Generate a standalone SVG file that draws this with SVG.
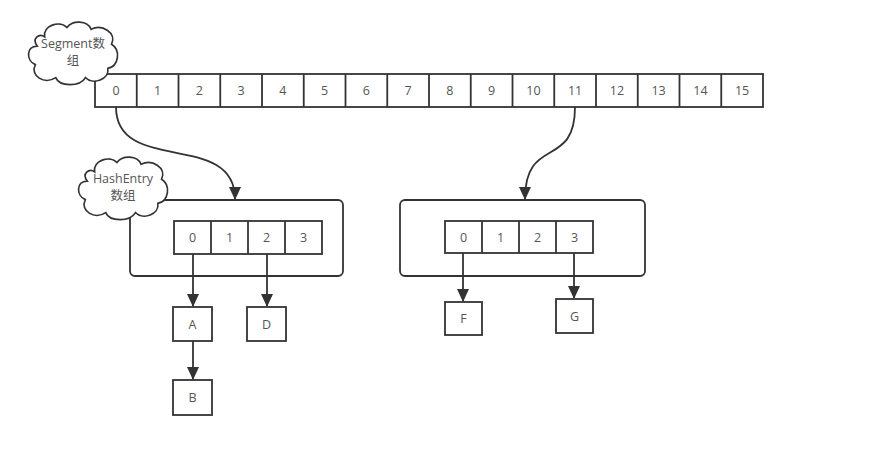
<svg xmlns="http://www.w3.org/2000/svg" width="876" height="451" viewBox="0 0 876 451">
<style>
.box{fill:#fff;stroke:#333;stroke-width:1.8}
.div{stroke:#333;stroke-width:1.8}
.t{font-family:"Open Sans","Liberation Sans","Noto Sans CJK SC",sans-serif;font-size:12.5px;fill:#555;text-anchor:middle}
.cloud{fill:#fff;stroke:#333;stroke-width:1.8}
.con{fill:none;stroke:#333;stroke-width:1.8}
</style>
<defs>
<marker id="arr" markerUnits="userSpaceOnUse" markerWidth="14" markerHeight="14" refX="12" refY="6" orient="auto">
<path d="M0,0 L13,6 L0,12 Z" fill="#333"/>
</marker>
<path id="cloudshape" d="M20,18 C18,6 36,0 44,8 C50,0 66,0 70,10 C82,4 98,14 92,26 C102,32 100,50 88,52 C90,64 72,70 64,62 C58,72 36,72 32,62 C20,70 4,60 10,48 C0,44 0,28 12,28 C6,20 14,14 20,18 Z"/>
</defs>
<rect width="876" height="451" fill="#fff"/>

<g id="segment-array">
<rect class="box" x="95" y="74" width="668" height="33"/>
<g class="div">
<line x1="136.75" y1="74" x2="136.75" y2="107"/>
<line x1="178.5" y1="74" x2="178.5" y2="107"/>
<line x1="220.25" y1="74" x2="220.25" y2="107"/>
<line x1="262" y1="74" x2="262" y2="107"/>
<line x1="303.75" y1="74" x2="303.75" y2="107"/>
<line x1="345.5" y1="74" x2="345.5" y2="107"/>
<line x1="387.25" y1="74" x2="387.25" y2="107"/>
<line x1="429" y1="74" x2="429" y2="107"/>
<line x1="470.75" y1="74" x2="470.75" y2="107"/>
<line x1="512.5" y1="74" x2="512.5" y2="107"/>
<line x1="554.25" y1="74" x2="554.25" y2="107"/>
<line x1="596" y1="74" x2="596" y2="107"/>
<line x1="637.75" y1="74" x2="637.75" y2="107"/>
<line x1="679.5" y1="74" x2="679.5" y2="107"/>
<line x1="721.25" y1="74" x2="721.25" y2="107"/>
</g>
<g class="t">
<text x="116" y="95">0</text>
<text x="157.6" y="95">1</text>
<text x="199.4" y="95">2</text>
<text x="241.1" y="95">3</text>
<text x="282.9" y="95">4</text>
<text x="324.6" y="95">5</text>
<text x="366.4" y="95">6</text>
<text x="408.1" y="95">7</text>
<text x="449.9" y="95">8</text>
<text x="491.6" y="95">9</text>
<text x="533.4" y="95">10</text>
<text x="575.1" y="95">11</text>
<text x="616.9" y="95">12</text>
<text x="658.6" y="95">13</text>
<text x="700.4" y="95">14</text>
<text x="742.1" y="95">15</text>
</g>
</g>

<g id="segment-cloud">
<use href="#cloudshape" class="cloud" transform="translate(26,20) scale(0.93)"/>
<text class="t" x="73" y="48">Segment数</text>
<text class="t" x="73" y="65">组</text>
</g>

<g id="hashentry-table-1">
<rect class="box" x="130" y="200" width="213" height="76" rx="5"/>
<rect class="box" x="174" y="221" width="148" height="33"/>
<g class="div">
<line x1="211" y1="221" x2="211" y2="254"/>
<line x1="248" y1="221" x2="248" y2="254"/>
<line x1="285" y1="221" x2="285" y2="254"/>
</g>
<g class="t">
<text x="192.5" y="242">0</text>
<text x="229.5" y="242">1</text>
<text x="266.5" y="242">2</text>
<text x="303.5" y="242">3</text>
</g>
</g>

<g id="hashentry-cloud">
<use href="#cloudshape" class="cloud" transform="translate(76,155) scale(0.93)"/>
<text class="t" x="123" y="183">HashEntry</text>
<text class="t" x="123" y="200">数组</text>
</g>

<g id="hashentry-table-2">
<rect class="box" x="400" y="200" width="245" height="76" rx="5"/>
<rect class="box" x="445" y="221" width="148" height="32"/>
<g class="div">
<line x1="482" y1="221" x2="482" y2="253"/>
<line x1="519" y1="221" x2="519" y2="253"/>
<line x1="556" y1="221" x2="556" y2="253"/>
</g>
<g class="t">
<text x="463.5" y="241.5">0</text>
<text x="500.5" y="241.5">1</text>
<text x="537.5" y="241.5">2</text>
<text x="574.5" y="241.5">3</text>
</g>
</g>

<g id="node-A"><rect class="box" x="173" y="307" width="39" height="34"/><text class="t" x="192.5" y="328.5">A</text></g>
<g id="node-B"><rect class="box" x="173" y="380" width="39" height="35"/><text class="t" x="192.5" y="402">B</text></g>
<g id="node-D"><rect class="box" x="247" y="307" width="39" height="34"/><text class="t" x="266.5" y="328.5">D</text></g>
<g id="node-F"><rect class="box" x="445" y="302" width="37" height="33"/><text class="t" x="463.5" y="323">F</text></g>
<g id="node-G"><rect class="box" x="556" y="299" width="37" height="34"/><text class="t" x="574.5" y="320.5">G</text></g>

<g id="connectors">
<path class="con" d="M116,107 C116,175 235,130 235,199" marker-end="url(#arr)"/>
<path class="con" d="M575,107 C575,170 525,135 525,199" marker-end="url(#arr)"/>
<path class="con" d="M193,254 L193,306" marker-end="url(#arr)"/>
<path class="con" d="M267,254 L267,306" marker-end="url(#arr)"/>
<path class="con" d="M193,341 L193,379" marker-end="url(#arr)"/>
<path class="con" d="M463,253 L463,301" marker-end="url(#arr)"/>
<path class="con" d="M574,253 L574,298" marker-end="url(#arr)"/>
</g>
</svg>
